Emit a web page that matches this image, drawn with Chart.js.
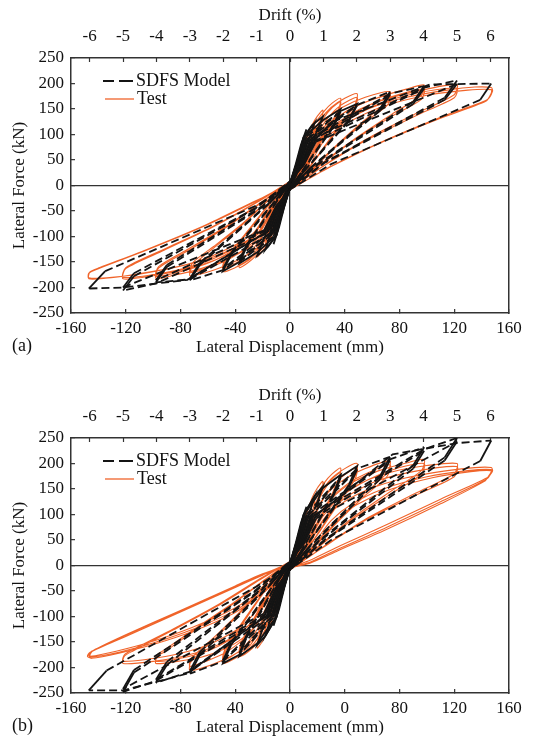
<!DOCTYPE html>
<html>
<head>
<meta charset="utf-8">
<script src="https://cdn.jsdelivr.net/npm/chart.js@4.4.1/dist/chart.umd.min.js"></script>
<style>
  html, body { margin: 0; padding: 0; background: #fff; }
  canvas { display: block; }
</style>
</head>
<body>
<canvas id="chartA" width="552" height="380"></canvas>
<canvas id="chartB" width="552" height="362"></canvas>
<script>
// axis ticks
const dispTicks = [-160, -120, -80, -40, 0, 40, 80, 120, 160];
const dispLabelsA = ['-160', '-120', '-80', '-40', '0', '40', '80', '120', '160'];
const dispLabelsB = ['-160', '-120', '-80', '40', '0', '0', '80', '120', '160'];
const driftTicks = [-6, -5, -4, -3, -2, -1, 0, 1, 2, 3, 4, 5, 6];
const forceTicks = [-250, -200, -150, -100, -50, 0, 50, 100, 150, 200, 250];
const mmPerPct = 24.4;

// panel (a) – test record, [displacement mm, force kN]
const testA = [
  [0,0],
  [2,16],[4,36],[6,52],[5.5,40],[3,14],[0,-2],[-2,-16],[-4,-34],[-6,-48],[-5.5,-36],[-3,-12],[0,2],
  [3,22],[6,52],[9,80],[12,100],[11.5,86],[8,48],[4,14],[0,-4],[-3,-22],[-6,-50],[-9,-76],[-12,-95],[-11.5,-80],[-8,-44],[-4,-12],[0,3],
  [4,22],[8,60],[11,88],[14,108],[18,125],[17,106],[12,60],[6,18],[0,-5],[-4,-22],[-8,-56],[-11,-82],[-14,-102],[-18,-120],[-17,-101],[-12,-56],[-6,-16],[0,4],
  [5,22],[9,60],[12,90],[16,118],[20,136],[24,148],[23,128],[16,74],[8,24],[0,-5],[-5,-22],[-9,-56],[-12,-86],[-16,-112],[-20,-128],[-24,-140],[-23,-120],[-16,-68],[-8,-20],[0,5],
  [6,22],[10,56],[13,88],[18,120],[25,146],[31,162],[37,171],[35.5,150],[26,104],[15,54],[7,18],[0,-6],[-6,-22],[-10,-56],[-13,-86],[-18,-115],[-25,-138],[-31,-152],[-37,-161],[-35.5,-141],[-26,-97],[-15,-49],[-7,-16],[0,5],
  [7,22],[12,56],[17,95],[24,130],[31,153],[37,164],[35.5,144],[26,100],[15,51],[7,16],[0,-6],[-7,-22],[-12,-56],[-17,-92],[-24,-125],[-31,-146],[-37,-155],[-35.5,-136],[-26,-94],[-15,-47],[-7,-15],[0,5],
  [7,22],[11,56],[15,92],[22,128],[30,153],[40,171],[49,180],[47.5,159],[36,117],[22,65],[10,22],[0,-7],[-7,-24],[-11,-56],[-15,-90],[-22,-124],[-30,-146],[-40,-161],[-49,-169],[-47.5,-149],[-36,-109],[-22,-61],[-10,-20],[0,6],
  [8,22],[13,56],[19,95],[27,130],[37,157],[49,173],[47.5,153],[36,113],[22,63],[10,21],[0,-7],[-8,-24],[-13,-56],[-19,-92],[-27,-124],[-37,-148],[-49,-163],[-47.5,-144],[-36,-106],[-22,-59],[-10,-19],[0,6],
  [8,22],[12,58],[16,96],[24,126],[38,153],[55,173],[73,184],[71,164],[54,127],[34,79],[15,30],[0,-8],[-8,-25],[-12,-58],[-16,-94],[-24,-122],[-38,-146],[-55,-165],[-73,-177],[-71,-157],[-54,-119],[-34,-75],[-15,-27],[0,7],
  [9,22],[14,58],[20,95],[32,128],[48,156],[73,177],[71,157],[54,123],[34,77],[15,28],[0,-8],[-9,-25],[-14,-58],[-20,-94],[-32,-122],[-48,-149],[-73,-171],[-71,-151],[-54,-116],[-34,-73],[-15,-26],[0,7],
  [9,22],[13,58],[18,94],[28,122],[45,151],[65,173],[85,189],[98,197],[96,177],[74,139],[46,89],[20,37],[0,-8],[-9,-25],[-13,-58],[-18,-92],[-28,-118],[-45,-143],[-65,-163],[-85,-176],[-98,-182],[-96,-162],[-74,-127],[-46,-81],[-20,-32],[0,8],
  [10,22],[15,58],[22,94],[37,124],[57,157],[80,179],[98,189],[96,169],[74,135],[46,87],[20,35],[0,-8],[-10,-25],[-15,-58],[-22,-92],[-37,-120],[-57,-149],[-80,-169],[-98,-178],[-96,-159],[-74,-124],[-46,-79],[-20,-31],[0,8],
  [10,22],[14,58],[20,94],[34,122],[52,151],[75,173],[100,189],[122,198],[120,178],[92,141],[56,91],[24,38],[0,-8],[-10,-25],[-14,-58],[-20,-92],[-34,-118],[-52,-143],[-75,-163],[-100,-177],[-122,-183],[-120,-163],[-92,-127],[-56,-81],[-24,-33],[0,8],
  [11,22],[16,58],[24,95],[40,126],[62,157],[90,180],[122,191],[120,172],[92,137],[56,89],[24,37],[0,-8],[-11,-25],[-16,-58],[-24,-94],[-40,-122],[-62,-150],[-90,-170],[-122,-180],[-120,-161],[-92,-125],[-56,-80],[-24,-32],[0,8],
  [11,22],[16,58],[23,94],[38,122],[58,151],[85,173],[115,187],[135,193],[147,192],[148,185],[144,168],[110,134],[68,87],[30,38],[0,-8],[-11,-25],[-16,-58],[-23,-92],[-38,-118],[-58,-142],[-85,-161],[-115,-175],[-135,-182],[-147,-183],[-147,-172],[-140,-163],[-105,-127],[-62,-79],[-25,-31],[0,5],
  [12,22],[18,58],[27,95],[44,126],[68,155],[100,177],[130,187],[147,188],[147,181],[143,165],[110,132],[68,86],[30,37],[0,-8],[-12,-25],[-18,-58],[-27,-94],[-44,-122],[-68,-149],[-100,-169],[-130,-180],[-147,-181],[-146,-169],[-139,-161],[-105,-126],[-62,-78],[-25,-30],[0,0]
];

// panel (a) – SDFS model
const modelA = [
  [0,0],
  [3,30],[6,58],[5,45],[1,6],[0,-3],[-3,-30],[-6,-58],[-5,-45],[-1,-6],[0,3],
  [4,40],[8,80],[12,110],[10,90],[3,18],[0,-5],[-4,-40],[-8,-82],[-12,-115],[-10,-95],[-3,-18],[0,5],
  [5,45],[10,95],[18,123],[15,100],[4,20],[0,-5],[-5,-45],[-10,-98],[-18,-126],[-15,-102],[-4,-20],[0,5],
  [5,45],[10,95],[16,118],[24,135],[20,108],[5,22],[0,-5],[-5,-45],[-10,-98],[-16,-120],[-24,-138],[-20,-110],[-5,-22],[0,5],
  [6,45],[11,97],[24,128],[37,150],[32,120],[8,25],[0,-6],[-6,-45],[-11,-100],[-24,-131],[-37,-153],[-32,-122],[-8,-25],[0,6],
  [6,40],[12,90],[37,145],[32,116],[8,24],[0,-6],[-6,-40],[-12,-92],[-37,-148],[-32,-118],[-8,-24],[0,6],
  [6,40],[12,96],[37,146],[49,160],[43,129],[10,28],[0,-6],[-6,-42],[-12,-100],[-37,-150],[-49,-168],[-43,-136],[-10,-28],[0,6],
  [7,40],[13,86],[49,157],[43,126],[10,27],[0,-6],[-7,-40],[-13,-90],[-49,-163],[-43,-132],[-10,-27],[0,6],
  [7,40],[13,92],[49,158],[73,184],[66,151],[15,35],[0,-7],[-7,-40],[-13,-96],[-49,-166],[-73,-186],[-66,-156],[-15,-35],[0,7],
  [8,40],[15,86],[73,178],[66,147],[15,34],[0,-7],[-8,-40],[-15,-88],[-73,-182],[-66,-152],[-15,-34],[0,7],
  [8,40],[15,92],[73,180],[98,195],[90,164],[20,42],[0,-7],[-8,-40],[-15,-96],[-73,-184],[-98,-190],[-90,-160],[-20,-42],[0,7],
  [9,40],[17,86],[98,190],[90,160],[20,40],[0,-7],[-9,-40],[-17,-88],[-98,-186],[-90,-156],[-20,-40],[0,7],
  [9,40],[17,92],[98,192],[122,206],[113,172],[25,45],[0,-8],[-9,-40],[-17,-94],[-98,-192],[-122,-206],[-114,-178],[-25,-45],[0,8],
  [10,40],[19,86],[122,199],[113,168],[25,44],[0,-8],[-10,-40],[-19,-88],[-122,-200],[-114,-172],[-25,-44],[0,8],
  [10,40],[19,92],[31,125],[102,198],[147,200],[139,168],[30,42],[0,-8],[-10,-40],[-19,-94],[-75,-185],[-122,-200],[-147,-202],[-135,-168],[-25,-40],[0,0]
];

// panel (b) – test record
const testB = [
  [0,0],
  [2,16],[4,36],[6,54],[5.5,40],[3,14],[0,-2],[-2,-16],[-4,-34],[-6,-50],[-5.5,-37],[-3,-12],[0,3],
  [3,24],[6,55],[9,82],[12,102],[11.5,88],[8,50],[4,15],[0,-4],[-3,-24],[-6,-52],[-9,-80],[-12,-100],[-11.5,-85],[-8,-46],[-4,-12],[0,4],
  [4,24],[8,64],[11,94],[14,114],[18,130],[17,112],[12,64],[6,18],[0,-5],[-4,-24],[-8,-60],[-11,-90],[-14,-112],[-18,-130],[-17,-111],[-12,-62],[-6,-16],[0,5],
  [5,24],[9,66],[12,100],[16,132],[20,152],[24,165],[23,145],[16,82],[8,24],[0,-6],[-5,-24],[-9,-64],[-12,-98],[-16,-128],[-20,-148],[-24,-162],[-23,-141],[-16,-78],[-8,-22],[0,6],
  [6,24],[10,62],[14,100],[19,135],[25,162],[31,180],[37,191],[35.5,168],[26,115],[15,58],[7,18],[0,-7],[-6,-24],[-10,-62],[-14,-98],[-19,-130],[-25,-155],[-31,-170],[-37,-178],[-35.5,-156],[-26,-106],[-15,-52],[-7,-15],[0,6],
  [7,24],[12,62],[17,104],[24,144],[31,170],[37,182],[35.5,160],[26,110],[15,55],[7,17],[0,-7],[-7,-24],[-12,-62],[-17,-100],[-24,-136],[-31,-162],[-37,-170],[-35.5,-150],[-26,-102],[-15,-50],[-7,-14],[0,6],
  [7,24],[11,60],[15,98],[22,140],[30,170],[40,190],[49,200],[47.5,176],[36,128],[22,70],[10,22],[0,-8],[-7,-26],[-11,-62],[-15,-98],[-22,-136],[-30,-164],[-40,-182],[-49,-192],[-47.5,-170],[-36,-120],[-22,-64],[-10,-18],[0,7],
  [8,24],[13,60],[19,102],[27,142],[37,172],[49,192],[47.5,169],[36,124],[22,68],[10,21],[0,-8],[-8,-26],[-13,-62],[-19,-100],[-27,-138],[-37,-168],[-49,-186],[-47.5,-164],[-36,-116],[-22,-62],[-10,-17],[0,7],
  [8,24],[12,58],[17,96],[25,134],[38,166],[55,190],[73,205],[71,182],[54,140],[34,86],[15,30],[0,-9],[-8,-28],[-12,-62],[-17,-100],[-25,-138],[-38,-170],[-55,-192],[-73,-206],[-73,-192],[-70,-182],[-52,-136],[-32,-80],[-14,-25],[0,8],
  [9,24],[14,58],[21,98],[32,138],[48,170],[73,198],[71,175],[54,135],[34,83],[15,28],[0,-9],[-9,-28],[-14,-62],[-21,-102],[-32,-140],[-48,-172],[-73,-198],[-73,-186],[-70,-176],[-52,-132],[-32,-78],[-14,-24],[0,8],
  [9,24],[14,58],[20,94],[30,130],[45,162],[65,186],[85,201],[98,208],[96,186],[74,146],[46,94],[20,36],[0,-9],[-9,-28],[-14,-60],[-20,-96],[-30,-132],[-45,-160],[-65,-180],[-85,-189],[-98,-192],[-97,-178],[-92,-170],[-70,-128],[-44,-80],[-18,-28],[0,8],
  [10,24],[16,58],[24,96],[37,134],[57,168],[80,192],[98,200],[96,179],[74,141],[46,91],[20,34],[0,-9],[-10,-28],[-16,-60],[-24,-98],[-37,-134],[-57,-164],[-80,-182],[-98,-188],[-97,-175],[-92,-166],[-70,-125],[-44,-78],[-18,-27],[0,8],
  [10,24],[15,58],[22,94],[34,130],[52,162],[75,184],[100,196],[122,200],[120,180],[92,142],[56,92],[24,36],[0,-9],[-10,-28],[-15,-58],[-22,-92],[-34,-126],[-52,-155],[-75,-176],[-100,-188],[-122,-192],[-121,-178],[-115,-168],[-85,-126],[-52,-78],[-22,-28],[0,8],
  [11,24],[17,58],[26,96],[40,132],[62,164],[90,184],[122,194],[120,174],[92,138],[56,90],[24,35],[0,-9],[-11,-28],[-17,-58],[-26,-94],[-40,-128],[-62,-158],[-90,-178],[-122,-188],[-121,-175],[-115,-165],[-85,-124],[-52,-76],[-22,-26],[0,8],
  [11,24],[17,56],[25,90],[38,122],[58,150],[85,172],[115,186],[135,192],[147,192],[148,185],[144,172],[110,130],[72,82],[37,39],[16,12],[0,-6],[-10,-30],[-20,-55],[-40,-92],[-70,-128],[-100,-155],[-125,-172],[-145,-182],[-148,-178],[-146,-170],[-120,-139],[-80,-91],[-40,-43],[-20,-19],[0,5],
  [12,22],[20,52],[30,88],[45,120],[68,150],[100,174],[130,186],[147,188],[147,181],[143,168],[110,125],[70,74],[35,32],[15,7],[0,-6],[-10,-28],[-20,-52],[-40,-88],[-70,-124],[-100,-152],[-125,-170],[-146,-180],[-147,-176],[-145,-168],[-120,-137],[-80,-89],[-40,-41],[-20,-17],[0,5],
  [13,22],[21,50],[32,86],[48,118],[72,148],[104,172],[132,184],[147,186],[146,179],[142,165],[110,121],[70,70],[35,29],[15,5],[0,-6],[-10,-27],[-21,-50],[-42,-86],[-72,-122],[-102,-150],[-127,-168],[-146,-178],[-146,-174],[-144,-167],[-120,-136],[-80,-88],[-40,-40],[-20,-16],[0,0]
];

// panel (b) – SDFS model
const modelB = [
  [0,0],
  [3,30],[6,60],[5,46],[1,6],[0,-3],[-3,-30],[-6,-60],[-5,-46],[-1,-6],[0,3],
  [4,42],[8,84],[12,115],[10,94],[3,18],[0,-5],[-4,-42],[-8,-86],[-12,-118],[-10,-97],[-3,-18],[0,5],
  [5,48],[10,100],[18,136],[15,110],[4,20],[0,-5],[-5,-48],[-10,-102],[-18,-138],[-15,-112],[-4,-20],[0,5],
  [5,48],[10,100],[18,136],[24,155],[20,124],[5,24],[0,-5],[-5,-48],[-10,-102],[-18,-138],[-24,-156],[-20,-125],[-5,-24],[0,5],
  [6,48],[11,102],[24,152],[37,178],[32,142],[8,28],[0,-6],[-6,-48],[-11,-104],[-24,-153],[-37,-178],[-32,-143],[-8,-28],[0,6],
  [6,42],[12,94],[37,172],[32,138],[8,27],[0,-6],[-6,-42],[-12,-96],[-37,-172],[-32,-138],[-8,-27],[0,6],
  [6,44],[12,100],[37,174],[49,195],[43,158],[10,32],[0,-6],[-6,-44],[-12,-102],[-37,-175],[-49,-192],[-43,-156],[-10,-32],[0,6],
  [7,42],[13,92],[49,188],[43,153],[10,31],[0,-6],[-7,-42],[-13,-94],[-49,-186],[-43,-151],[-10,-31],[0,6],
  [7,44],[13,98],[49,190],[73,213],[66,176],[15,40],[0,-7],[-7,-44],[-13,-100],[-49,-188],[-73,-212],[-66,-176],[-15,-40],[0,7],
  [8,42],[15,92],[73,206],[66,170],[15,38],[0,-7],[-8,-42],[-15,-94],[-73,-206],[-66,-170],[-15,-38],[0,7],
  [8,44],[15,98],[73,208],[98,232],[90,196],[20,46],[0,-7],[-8,-44],[-15,-100],[-73,-208],[-98,-230],[-90,-195],[-20,-46],[0,7],
  [9,42],[17,92],[98,225],[90,190],[20,44],[0,-7],[-9,-42],[-17,-94],[-98,-224],[-90,-189],[-20,-44],[0,7],
  [9,44],[17,98],[98,228],[122,250],[113,212],[25,50],[0,-8],[-9,-44],[-17,-100],[-98,-226],[-122,-248],[-114,-210],[-25,-50],[0,8],
  [10,42],[19,92],[122,243],[113,206],[25,48],[0,-8],[-10,-42],[-19,-94],[-122,-242],[-114,-205],[-25,-48],[0,8],
  [10,44],[19,98],[75,218],[122,240],[147,245],[139,205],[30,50],[0,-8],[-10,-44],[-19,-100],[-75,-212],[-122,-245],[-147,-245],[-134,-206],[-25,-42],[0,0]
];

const testColor = '#f0642a';
const modelColor = '#141414';
const axisColor = '#333';
const textColor = '#111';
const fontFamily = "'Liberation Serif', 'Times New Roman', serif";

Chart.defaults.font.family = fontFamily;
Chart.defaults.font.size = 17;
Chart.defaults.color = textColor;

const toPts = arr => arr.map(p => ({ x: p[0], y: p[1] }));
const zeroLine = c => (c.tick && c.tick.value === 0) ? axisColor : 'rgba(0,0,0,0)';

// legend box + panel letter drawn inside the canvas
const panelNote = {
  id: 'panelNote',
  afterDraw(chart, args, opts) {
    const { ctx, chartArea } = chart;
    const L = chartArea.left, T = chartArea.top;
    ctx.save();
    ctx.lineWidth = 2;
    ctx.strokeStyle = modelColor;
    ctx.setLineDash([11, 5, 14, 5]);
    ctx.beginPath();
    ctx.moveTo(L + 32, T + 23);
    ctx.lineTo(L + 62, T + 23);
    ctx.stroke();
    ctx.setLineDash([]);
    ctx.lineWidth = 1.3;
    ctx.strokeStyle = testColor;
    ctx.beginPath();
    ctx.moveTo(L + 34, T + 41);
    ctx.lineTo(L + 63, T + 41);
    ctx.stroke();
    ctx.fillStyle = textColor;
    ctx.font = '18px ' + fontFamily;
    ctx.textBaseline = 'middle';
    ctx.textAlign = 'left';
    ctx.fillText('SDFS Model', L + 65, T + 23);
    ctx.fillText('Test', L + 66, T + 41);
    ctx.fillText(opts.label, 12, 346);
    ctx.restore();
  }
};

function makeChart(id, test, model, xLabels, letter, bottomPad) {
  return new Chart(document.getElementById(id), {
    type: 'scatter',
    data: {
      datasets: [
        {
          label: 'SDFS Model',
          data: toPts(model),
          showLine: true,
          borderColor: modelColor,
          borderWidth: 1.8,
          borderDash: [8, 4],
          pointRadius: 0,
          tension: 0,
          order: 0,
          segment: {
            // short steep unloading pieces read as solid in the original
            borderDash: c => Math.hypot(c.p1.x - c.p0.x, c.p1.y - c.p0.y) < 32 ? [] : undefined
          }
        },
        {
          label: 'Test',
          data: toPts(test),
          showLine: true,
          borderColor: testColor,
          borderWidth: 1.1,
          pointRadius: 0,
          tension: 0.25,
          order: 1
        }
      ]
    },
    options: {
      responsive: false,
      animation: false,
      events: [],
      layout: { padding: { left: 0, right: 43, top: 0, bottom: bottomPad } },
      plugins: {
        legend: { display: false },
        tooltip: { enabled: false },
        panelNote: { label: letter }
      },
      scales: {
        x: {
          type: 'linear',
          position: 'bottom',
          min: -160,
          max: 160,
          afterBuildTicks: s => { s.ticks = dispTicks.map(v => ({ value: v })); },
          afterFit: s => { s.height = 49; },
          grid: { color: zeroLine, lineWidth: 1.3, tickLength: -4, tickColor: axisColor, tickWidth: 1.2 },
          border: { color: axisColor, width: 1.5 },
          ticks: { padding: 9, maxRotation: 0, autoSkip: false, callback: (v, i) => xLabels[i] },
          title: { display: true, text: 'Lateral Displacement (mm)', padding: { top: 0, bottom: 4 } }
        },
        drift: {
          type: 'linear',
          position: 'top',
          min: -160 / mmPerPct,
          max: 160 / mmPerPct,
          afterBuildTicks: s => { s.ticks = driftTicks.map(v => ({ value: v })); },
          afterFit: s => { s.height = 58; },
          grid: { drawOnChartArea: false, tickLength: -4, tickColor: axisColor, tickWidth: 1.2 },
          border: { color: axisColor, width: 1.5 },
          ticks: { padding: 15, maxRotation: 0, autoSkip: false, callback: v => String(v) },
          title: { display: true, text: 'Drift (%)', padding: { top: 5, bottom: 0 } }
        },
        y: {
          type: 'linear',
          position: 'left',
          min: -250,
          max: 250,
          afterBuildTicks: s => { s.ticks = forceTicks.map(v => ({ value: v })); },
          afterFit: s => { s.width = 71; },
          grid: { color: zeroLine, lineWidth: 1.3, tickLength: -4, tickColor: axisColor, tickWidth: 1.2 },
          border: { color: axisColor, width: 1.5 },
          ticks: { padding: 11, autoSkip: false, callback: v => String(v) },
          title: { display: true, text: 'Lateral Force (kN)', padding: { top: 9, bottom: 0 } }
        },
        yRight: {
          type: 'linear',
          position: 'right',
          afterFit: s => { s.width = 0; },
          grid: { drawOnChartArea: false, drawTicks: false },
          border: { color: axisColor, width: 1.5 },
          ticks: { display: false }
        }
      }
    },
    plugins: [panelNote]
  });
}

makeChart('chartA', testA, modelA, dispLabelsA, '(a)', 18);
makeChart('chartB', testB, modelB, dispLabelsB, '(b)', 0);
</script>
</body>
</html>
